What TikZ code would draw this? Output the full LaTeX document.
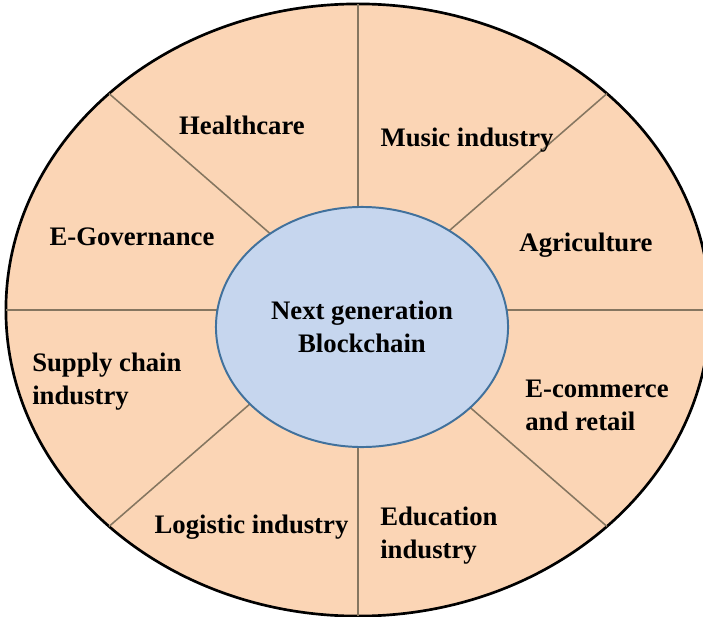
\documentclass[tikz,border=0pt]{standalone}
\usepackage{fontspec}
\setmainfont{Liberation Serif}
\usepackage{tikz}
\usetikzlibrary{shapes.geometric}
\definecolor{peach}{HTML}{FBD5B5}
\definecolor{hubblue}{HTML}{C6D6EE}
\definecolor{hubline}{HTML}{41719C}
\definecolor{spokegray}{HTML}{857660}
\tikzset{
	sector/.style={font=\fontsize{19}{23.5}\selectfont\bfseries, inner sep=0pt, align=left},
	spoke/.style={line width=1.1pt, color=spokegray}
}

\begin{document}
\begin{tikzpicture}[x=0.025cm, y=-0.025cm]
			%%%%% START %%%%%
			
			\useasboundingbox (0, 0) rectangle (703, 617);
			
			\node[ellipse, draw=black, line width=1.9pt, fill=peach, minimum width=17.6cm, minimum height=15.3cm, inner sep=0pt, outer sep=0pt] (ring) at (358, 310) {};
			
			\foreach \ang in {0, 41, 90, 139, 180, 221, 270, 319}
				\draw[spoke] (ring.center) -- (ring.\ang);
			
			\node[ellipse, draw=hubline, line width=1.4pt, fill=hubblue, minimum width=7.3cm, minimum height=6cm, inner sep=0pt, align=center, font=\fontsize{19}{23.5}\selectfont\bfseries] (hub) at (362, 327) {Next generation\\Blockchain};
			
			\node[sector] (healthcare) at (242, 125) {Healthcare};
			\node[sector] (music) at (467, 140) {Music industry};
			\node[sector] (egov) at (132, 237) {E-Governance};
			\node[sector] (agri) at (586, 245) {Agriculture};
			
			\node[sector, anchor=west] (supply) at (32, 382) {Supply chain\\industry};
			\node[sector, anchor=west] (ecommerce) at (525, 405.5) {E-commerce\\and retail};
			
			\node[sector] (logistic) at (251.5, 527.5) {Logistic industry};
			\node[sector, anchor=west] (education) at (380, 535.5) {Education\\industry};
			
			%%%%% END %%%%%
\end{tikzpicture}
\end{document}
